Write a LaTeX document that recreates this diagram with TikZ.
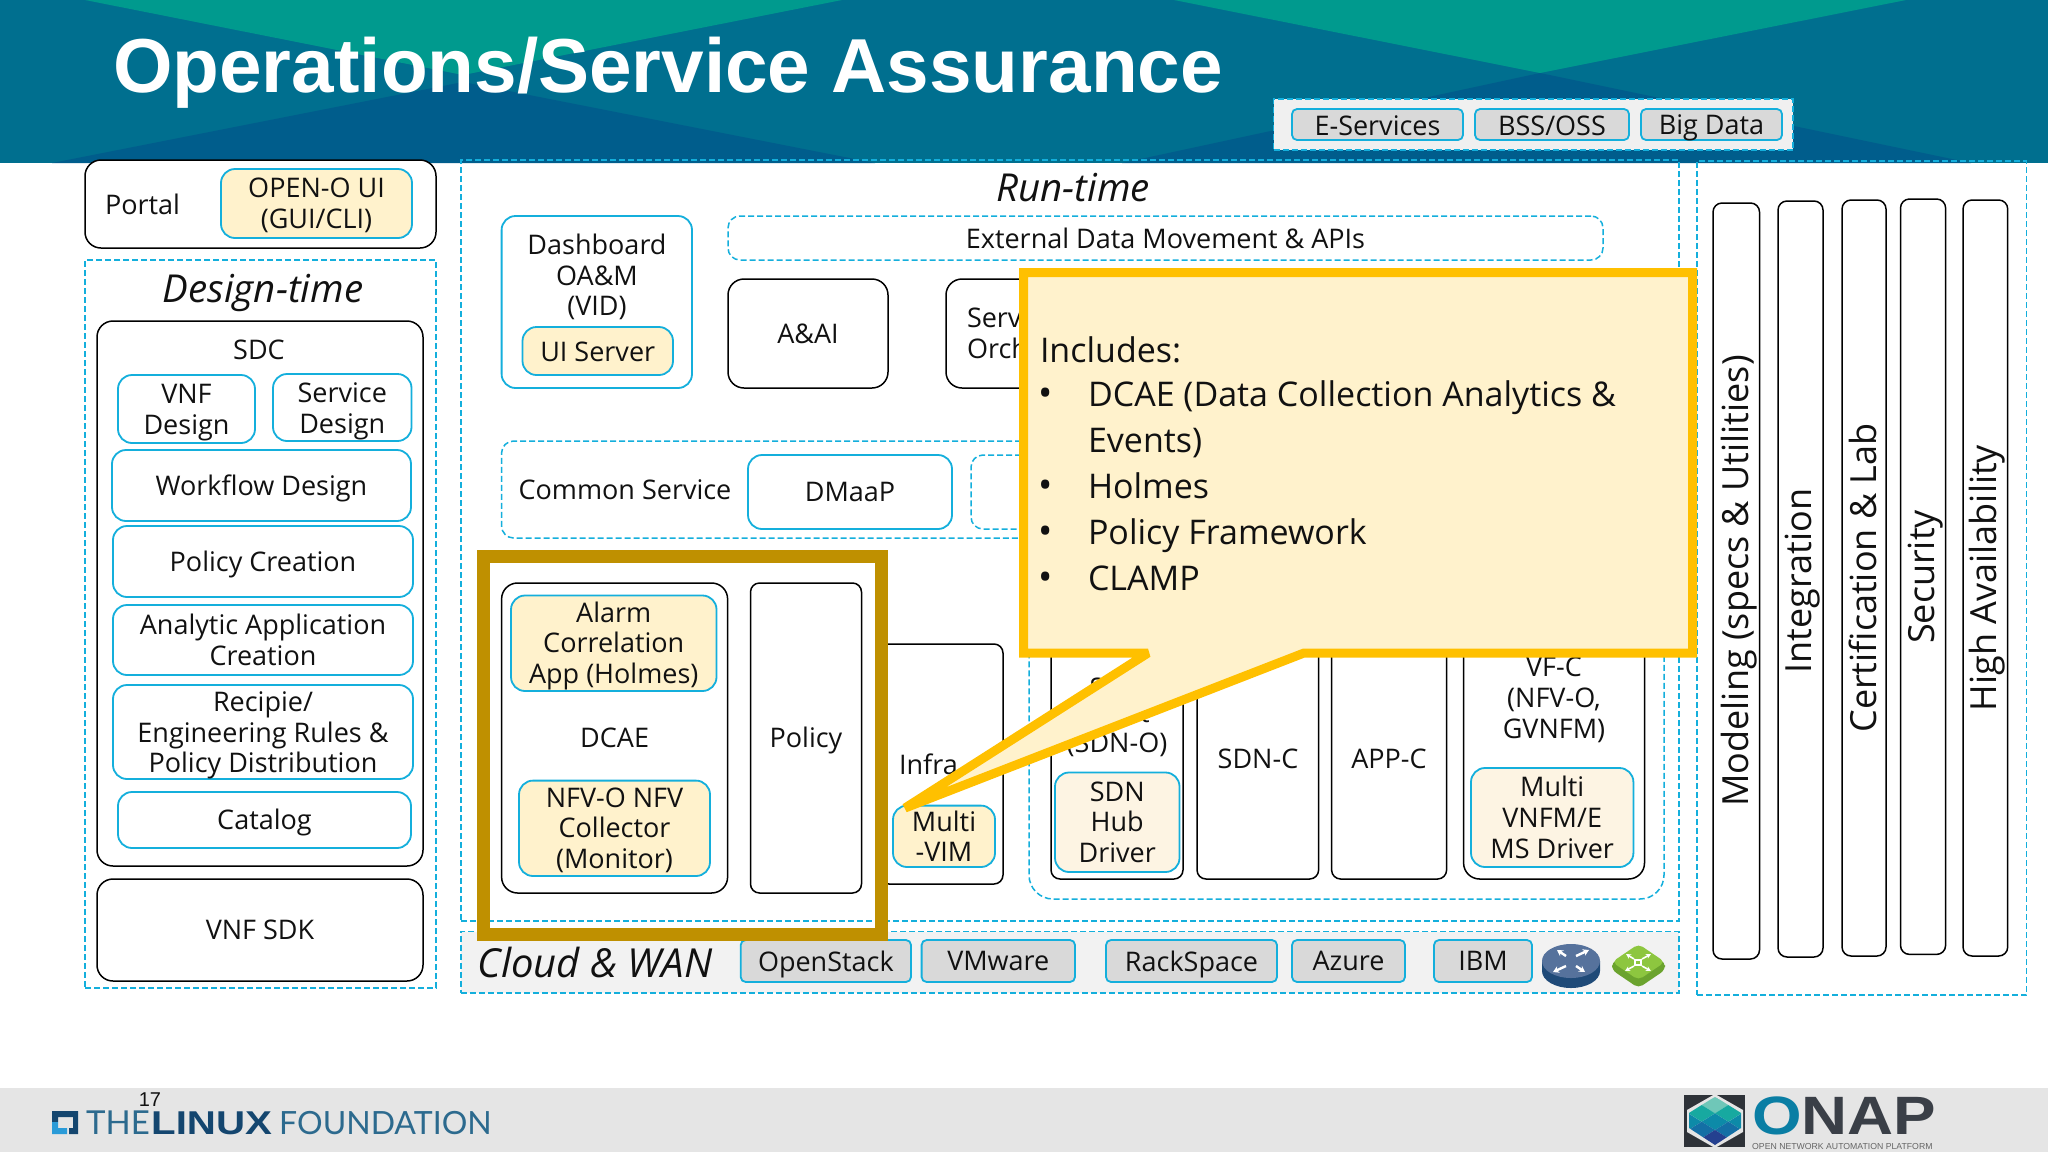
\documentclass[tikz,border=0pt]{standalone}
\usepackage{fontspec}
\setmainfont{Open Sans}
\newfontfamily\titlefont{Liberation Sans}[Scale=1]
\newfontfamily\onapfont{Liberation Sans}[FakeStretch=1.18]
\newfontfamily\linuxfont{Liberation Sans}[FakeStretch=1.22]
\newfontfamily\lfthin{Lato}
\usetikzlibrary{arrows.meta}
\definecolor{cblue}{HTML}{14AFDC}
\definecolor{cream}{HTML}{FFF2CC}
\definecolor{lcream}{HTML}{FDF4E3}
\definecolor{hbase}{HTML}{006F8F}
\definecolor{hgreen}{HTML}{009A8E}
\definecolor{hdark}{HTML}{005D8C}
\definecolor{gold}{HTML}{BF9000}
\definecolor{amber}{HTML}{FFC000}
\definecolor{ink}{HTML}{111111}
\definecolor{rtside}{HTML}{1F4A78}
\definecolor{rttop}{HTML}{56729C}
\definecolor{swside}{HTML}{6BA32E}
\definecolor{swtop}{HTML}{8DC63F}
\definecolor{lfdark}{HTML}{14466F}
\definecolor{lflight}{HTML}{2A9BD8}
\definecolor{lfthincol}{HTML}{2C6A8E}
\definecolor{onapdark}{HTML}{3A3F47}
\definecolor{onapteal}{HTML}{0A7EA4}
\definecolor{onapsq}{HTML}{2E3238}
\definecolor{ra}{HTML}{6FC7B8}
\definecolor{rb}{HTML}{17A9A0}
\definecolor{rc}{HTML}{0D8AA8}
\definecolor{rd}{HTML}{146FA5}
\definecolor{re}{HTML}{24408F}
\tikzset{
  base/.style={inner sep=0pt,outer sep=0pt,align=center,text=ink,font=\fontsize{27}{30.7}\selectfont},
  plain/.style={base},
  blk/.style={base,draw=black,line width=1.5pt,rounded corners=16pt,fill=white},
  blks/.style={base,draw=black,line width=1.5pt,rounded corners=9pt,fill=white},
  blu/.style={base,draw=cblue,line width=1.8pt,rounded corners=14pt,fill=white},
  cre/.style={blu,fill=cream},
  lcre/.style={blu,fill=lcream},
  gry/.style={base,draw=cblue,line width=1.8pt,rounded corners=5pt,fill=black!15},
  dsh/.style={base,draw=cblue,line width=1.5pt,dash pattern=on 6pt off 3pt},
  dshr/.style={dsh,rounded corners=12pt},
  lab/.style={base,font=\fontsize{38.5}{44}\selectfont\itshape},
  coltext/.style={base,rotate=90,font=\fontsize{36}{42}\selectfont},
  calltext/.style={base,anchor=base west,font=\fontsize{34}{40}\selectfont},
  bullet/.style={base,anchor=base,font=\fontsize{38}{40}\selectfont},
}
\newcommand\bx[7]{\node[#1,minimum width={(#5-#3)*1pt},minimum height={(#6-#4)*1pt}] (#2) at ({(#3+#5)/2},{(#4+#6)/2}) {#7};}
% box with its text set in its own node, moved down by #8
\newcommand\bxd[8]{\bx{#1}{#2}{#3}{#4}{#5}{#6}{}\node[plain] (#2txt) at ({(#3+#5)/2},{(#4+#6)/2+#8}) {#7};}
\newcommand\rh[3]{\fill[#3] ({#1-13.3},#2) -- (#1,{#2-8.3}) -- ({#1+13.3},#2) -- (#1,{#2+8.3}) -- cycle;}
\begin{document}
\begin{tikzpicture}[x=1pt,y=-1pt]
\useasboundingbox (0,0) rectangle (2048,1152);
\fill[white] (0,0) rectangle (2048,1152);
% header
\fill[hbase] (0,0) rectangle (2048,163);
\fill[hgreen] (85,0) -- (463,75) -- (842,0) -- cycle;
\fill[hgreen] (1174,0) -- (1540,73) -- (1906,0) -- cycle;
\fill[hdark] (52,163) -- (463,82) -- (875,163) -- cycle;
\fill[hdark] (1122,163) -- (1540,73) -- (1971,163) -- cycle;
\node[anchor=base west,inner sep=0pt,text=white,font=\titlefont\fontsize{76.5}{80}\selectfont\bfseries] (title) at (113,92) {Operations/Service Assurance};
% footer
\fill[black!10] (0,1088) rectangle (2048,1152);
% top strip
\bx{dsh,fill=black!6}{north}{1273.5}{99}{1793}{150}{}
\bxd{gry}{esvc}{1292}{109}{1463}{140}{E-Services}{1}
\bxd{gry}{bss}{1475}{109}{1629}{140}{BSS/OSS}{1}
\bxd{gry}{bigdata}{1641}{109}{1782}{140}{Big Data}{3}
% portal
\bx{blk}{portal}{85}{160}{436}{248}{}
\node[plain,anchor=west] (portaltxt) at (105,204) {Portal};
\bxd{cre}{openo}{221}{169}{412}{238}{OPEN-O UI\\(GUI/CLI)}{2}
% design-time
\bx{dsh}{design}{85}{260}{436}{988}{}
\node[lab] (designtxt) at (263,293) {Design-time};
\bx{blk}{sdc}{97}{321}{423}{866}{}
\node[plain] (sdctxt) at (259,350) {SDC};
\bxd{blu}{vnfd}{118}{375}{255}{443}{VNF\\Design}{3.5}
\bxd{blu}{svcd}{273}{374}{411.5}{441}{Service\\Design}{4}
\bxd{blu}{wfd}{112}{450}{411}{521}{Workflow Design}{2.6}
\bxd{blu}{polc}{113}{526}{413}{597}{Policy Creation}{2.6}
\bx{blu}{analytic}{113}{605}{413}{675}{Analytic Application\\Creation}
\bxd{blu}{recipe}{113}{685}{413}{779}{Recipie/\\Engineering Rules \&\\Policy Distribution}{3.5}
\bxd{blu}{catalog}{118}{792}{411}{848}{Catalog}{2.6}
\bx{blk}{vnfsdk}{97}{879}{423}{981}{VNF SDK}
% run-time
\bx{dsh}{runtime}{461}{160}{1679}{921}{}
\node[lab] (runtxt) at (1073,188) {Run-time};
\bx{blu}{dash}{501.6}{216}{692}{388}{}
\node[plain] (dashtxt) at (597,277) {Dashboard\\OA\&M\\(VID)};
\bxd{cre}{uisrv}{522.5}{327}{673}{375}{UI Server}{1}
\bx{dshr}{ext}{728}{216}{1603}{260}{External Data Movement \& APIs}
\bx{blk}{aai}{728}{279}{888}{388}{A\&AI}
\bx{blk}{so}{946}{279}{1060}{388}{}
\node[plain,anchor=west,align=left] (sotxt) at (967,333) {Serv\\Orch};
\bx{dshr}{common}{501.6}{441}{1060}{538}{}
\node[plain] (commontxt) at (625,490) {Common Service};
\bx{blu}{dmaap}{748}{455}{952}{529}{DMaaP}
\bx{dshr}{extra}{971}{455}{1060}{529}{}
% DCAE / policy
\bx{blk}{dcae}{501.6}{583}{727.6}{893}{}
\bxd{cre}{alarm}{511}{595.5}{716.5}{691}{Alarm\\Correlation\\App (Holmes)}{2.6}
\node[plain] (dcaetxt) at (614.6,738) {DCAE};
\bxd{cre}{nfvo}{519}{780.6}{710}{876}{NFV-O NFV\\Collector\\(Monitor)}{2}
\bxd{blks}{policy}{750.5}{583}{861.5}{893}{Policy}{2.6}
% infra
\bx{blks}{infra}{880}{644}{1003}{884}{}
\node[plain,anchor=west] (infratxt) at (899,764) {Infra};
\bx{cre}{mvim}{893}{805.6}{995}{867}{Multi\\-VIM}
% controllers
\bx{dshr,rounded corners=24pt}{ctrl}{1029}{560}{1664}{899}{}
\bx{blks}{sdno}{1051}{600}{1183}{879}{}
\node[plain] (frags) at (1097,688) {S};
\node[plain] (fragt) at (1145,714) {t};
\node[plain] (sdnotxt) at (1117,745) {(SDN-O)};
\bx{lcre}{hub}{1055}{772.5}{1179.5}{872}{SDN\\Hub\\Driver}
\bx{blks}{sdnc}{1197}{600}{1318.6}{879}{}
\node[plain] (sdnctxt) at (1258,759) {SDN-C};
\bx{blks}{appc}{1331.6}{600}{1446.6}{879}{}
\node[plain] (appctxt) at (1389,759) {APP-C};
\bx{blk}{vfc}{1463.6}{600}{1644.5}{879}{}
\node[plain] (vfctxt) at (1554,700) {VF-C\\(NFV-O,\\GVNFM)};
\bx{lcre}{mvnfm}{1471}{768}{1633.4}{867}{Multi\\VNFM/E\\MS Driver}
% cloud
\bx{dsh,fill=black!5}{cloud}{461}{931.6}{1679}{993}{}
\node[lab,font=\fontsize{40}{46}\selectfont\itshape] (cloudtxt) at (595,962) {Cloud \& WAN};
\bxd{gry}{ostack}{740.7}{940}{911}{982}{OpenStack}{3}
\bx{gry}{vmw}{921.6}{940}{1075}{982}{VMware}
\bxd{gry}{rack}{1106}{940}{1277}{982}{RackSpace}{3}
\bx{gry}{azure}{1292}{940}{1405}{982}{Azure}
\bx{gry}{ibm}{1434}{940}{1532}{982}{IBM}
% router icon
\fill[rtside] (1542,961) -- (1542,971) arc[x radius=29,y radius=17,start angle=180,end angle=0] -- (1600,961) -- cycle;
\fill[rttop] (1571,961) ellipse [x radius=29,y radius=17];
\begin{scope}[white,line width=2.4pt,-{Stealth[length=6pt,width=7pt]}]
\draw (1566,956) -- (1557,950);
\draw (1576,956) -- (1589,950);
\draw (1566,966) -- (1553,972);
\draw (1576,966) -- (1585,972);
\end{scope}
% switch icon
\fill[swside,rounded corners=5pt] (1612,962) -- (1612,970) -- (1638.5,988) -- (1665,970) -- (1665,962) -- (1638.5,950) -- cycle;
\fill[swtop,rounded corners=5pt] (1612,962) -- (1638.5,944) -- (1665,962) -- (1638.5,980) -- cycle;
\begin{scope}[white,line width=1.6pt,-{Stealth[length=5pt,width=5pt]}]
\draw (1642,959) -- (1651,954);
\draw (1634,959) -- (1626,954);
\draw (1634,966) -- (1625,971);
\draw (1642,966) -- (1651,971);
\end{scope}
\draw[white,line width=1.4pt] (1635,960) rectangle (1641,965);
% right panel
\bx{dsh}{side}{1697}{161}{2026.6}{995}{}
\bx{blks}{col1}{1713}{203}{1759.5}{959}{}
\bx{blks}{col2}{1778}{201}{1823}{957}{}
\bx{blks}{col3}{1842}{200}{1886}{956}{}
\bx{blks}{col4}{1900.5}{199}{1945.6}{954.4}{}
\bx{blks}{col5}{1963}{200}{2007.7}{956}{}
\node[coltext] (t1) at (1739,581) {Modeling (specs \& Utilities)};
\node[coltext] (t2) at (1803,581) {Integration};
\node[coltext] (t3) at (1863,578) {Certification \& Lab};
\node[coltext] (t4) at (1926,577) {Security};
\node[coltext] (t5) at (1987,578) {High Availability};
% callout
\draw[amber,fill=cream,line width=9pt,miter limit=3] (1023.5,272.5) -- (1692.5,272.5) -- (1692.5,653) -- (1304,653) -- (905,808) -- (1148,653) -- (1023.5,653) -- cycle;
\node[calltext] (c0) at (1040,362) {Includes:};
\node[bullet] (b1) at (1045.5,406) {\textbullet};
\node[calltext] (c1) at (1088,406) {DCAE (Data Collection Analytics \&};
\node[calltext] (c1b) at (1088,452) {Events)};
\node[bullet] (b2) at (1045.5,498) {\textbullet};
\node[calltext] (c2) at (1088,498) {Holmes};
\node[bullet] (b3) at (1045.5,544) {\textbullet};
\node[calltext] (c3) at (1088,544) {Policy Framework};
\node[bullet] (b4) at (1045.5,590) {\textbullet};
\node[calltext] (c4) at (1088,590) {CLAMP};
% gold frame
\draw[gold,line width=13pt] (483.5,556.5) rectangle (881.5,934.5);
% footer: number and logos
\node[inner sep=0pt,text=ink,font=\titlefont\fontsize{20}{22}\selectfont] (pageno) at (150,1100) {17};
\fill[lfdark] (52,1111) -- (78,1111) -- (78,1134) -- (69,1134) -- (69,1128) -- (73,1128) -- (73,1117) -- (58,1117) -- (58,1122) -- (52,1122) -- cycle;
\fill[lflight] (52,1122) -- (58,1122) -- (58,1128) -- (67,1128) -- (67,1134) -- (52,1134) -- cycle;
\node[anchor=base west,inner sep=0pt,text=lfthincol,font=\lfthin\fontsize{33}{36}\selectfont] (lfa) at (86,1134) {THE};
\node[anchor=base west,inner sep=0pt,text=lfdark,font=\linuxfont\fontsize{33}{36}\selectfont\bfseries] (lfb) at (151,1134) {LINUX};
\node[anchor=base west,inner sep=0pt,text=lfthincol,font=\lfthin\fontsize{32}{36}\selectfont] (lfc) at (279,1134) {FOUNDATION};
% ONAP logo
\fill[onapsq] (1684,1095) rectangle (1745,1147);
\fill[black!10] (1715,1094) -- (1743,1110) -- (1743,1132) -- (1715,1148) -- (1687,1132) -- (1687,1110) -- cycle;
\begin{scope}
\clip (1715,1097) -- (1741,1111) -- (1741,1128) -- (1715,1145) -- (1689,1128) -- (1689,1111) -- cycle;
\rh{1715}{1105}{ra}
\rh{1701.7}{1113.3}{rb}\rh{1728.3}{1113.3}{rb}
\rh{1688.3}{1121.7}{rc}\rh{1715}{1121.7}{rc}\rh{1741.7}{1121.7}{rc}
\rh{1701.7}{1130}{rd}\rh{1728.3}{1130}{rd}
\rh{1715}{1138.3}{re}
\end{scope}
\node[anchor=base west,inner sep=0pt,text=onapdark,font=\onapfont\fontsize{54}{58}\selectfont\bfseries] (onap) at (1752,1134) {\textcolor{onapteal}{O}NAP};
\node[anchor=base west,inner sep=0pt,text=black!60,font=\titlefont\fontsize{8.7}{10}\selectfont] (onapsub) at (1752,1149.5) {OPEN NETWORK AUTOMATION PLATFORM};
\end{tikzpicture}
\end{document}
